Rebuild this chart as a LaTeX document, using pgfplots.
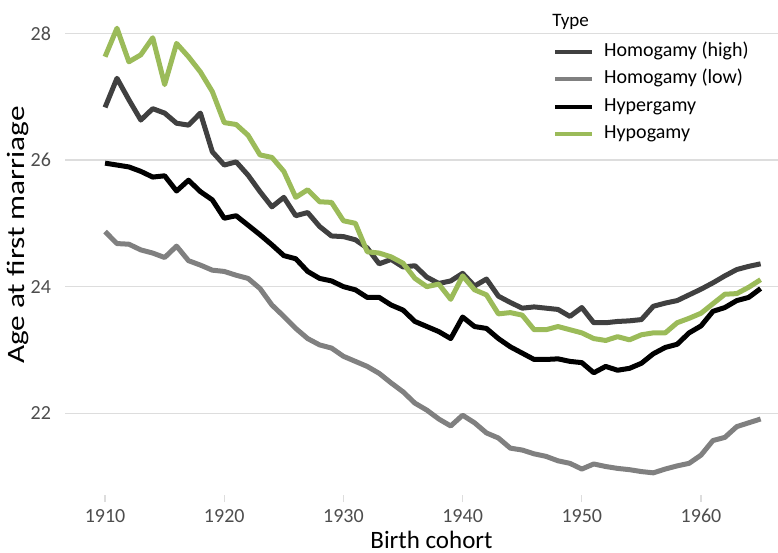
\documentclass[border=0pt]{standalone}
\usepackage{fontspec}
\setmainfont{Carlito}
\usepackage{pgfplots}
\usepackage{pgfplotstable}
\pgfplotsset{compat=1.18}
\definecolor{cHigh}{HTML}{404040}
\definecolor{cLow}{HTML}{808080}
\definecolor{cHyper}{HTML}{000000}
\definecolor{cHypo}{HTML}{9BBB59}
\definecolor{cTick}{HTML}{4D4D4D}
\definecolor{cGrid}{HTML}{DDDDDD}

\pgfplotstableread{
year val
1910 26.83
1911 27.29
1912 26.95
1913 26.63
1914 26.81
1915 26.74
1916 26.58
1917 26.55
1918 26.74
1919 26.13
1920 25.92
1921 25.97
1922 25.76
1923 25.50
1924 25.26
1925 25.41
1926 25.12
1927 25.17
1928 24.95
1929 24.80
1930 24.79
1931 24.74
1932 24.61
1933 24.36
1934 24.43
1935 24.31
1936 24.33
1937 24.15
1938 24.05
1939 24.09
1940 24.21
1941 24.01
1942 24.12
1943 23.85
1944 23.75
1945 23.66
1946 23.68
1947 23.66
1948 23.64
1949 23.53
1950 23.67
1951 23.43
1952 23.43
1953 23.45
1954 23.46
1955 23.48
1956 23.69
1957 23.74
1958 23.78
1959 23.87
1960 23.96
1961 24.06
1962 24.17
1963 24.27
1964 24.32
1965 24.36
}\tHigh

\pgfplotstableread{
year val
1910 24.87
1911 24.68
1912 24.67
1913 24.58
1914 24.53
1915 24.46
1916 24.64
1917 24.41
1918 24.34
1919 24.26
1920 24.24
1921 24.18
1922 24.13
1923 23.97
1924 23.71
1925 23.53
1926 23.34
1927 23.18
1928 23.08
1929 23.03
1930 22.90
1931 22.82
1932 22.74
1933 22.63
1934 22.48
1935 22.34
1936 22.16
1937 22.05
1938 21.91
1939 21.80
1940 21.97
1941 21.85
1942 21.69
1943 21.61
1944 21.45
1945 21.42
1946 21.36
1947 21.32
1948 21.25
1949 21.21
1950 21.12
1951 21.20
1952 21.16
1953 21.13
1954 21.11
1955 21.08
1956 21.06
1957 21.12
1958 21.17
1959 21.21
1960 21.34
1961 21.57
1962 21.62
1963 21.79
1964 21.85
1965 21.91
}\tLow

\pgfplotstableread{
year val
1910 25.95
1911 25.92
1912 25.89
1913 25.82
1914 25.73
1915 25.75
1916 25.51
1917 25.68
1918 25.50
1919 25.37
1920 25.08
1921 25.12
1922 24.97
1923 24.82
1924 24.66
1925 24.49
1926 24.44
1927 24.24
1928 24.13
1929 24.09
1930 24.00
1931 23.95
1932 23.83
1933 23.83
1934 23.71
1935 23.63
1936 23.45
1937 23.37
1938 23.29
1939 23.18
1940 23.52
1941 23.37
1942 23.34
1943 23.18
1944 23.05
1945 22.95
1946 22.85
1947 22.85
1948 22.86
1949 22.82
1950 22.80
1951 22.64
1952 22.74
1953 22.68
1954 22.71
1955 22.79
1956 22.94
1957 23.04
1958 23.09
1959 23.27
1960 23.38
1961 23.61
1962 23.67
1963 23.78
1964 23.83
1965 23.97
}\tHyper

\pgfplotstableread{
year val
1910 27.63
1911 28.08
1912 27.55
1913 27.66
1914 27.93
1915 27.19
1916 27.84
1917 27.63
1918 27.39
1919 27.08
1920 26.59
1921 26.56
1922 26.39
1923 26.08
1924 26.04
1925 25.82
1926 25.41
1927 25.53
1928 25.34
1929 25.33
1930 25.04
1931 25.00
1932 24.55
1933 24.53
1934 24.47
1935 24.37
1936 24.13
1937 24.00
1938 24.04
1939 23.80
1940 24.17
1941 23.95
1942 23.87
1943 23.57
1944 23.59
1945 23.55
1946 23.32
1947 23.32
1948 23.37
1949 23.32
1950 23.27
1951 23.18
1952 23.15
1953 23.21
1954 23.16
1955 23.24
1956 23.27
1957 23.27
1958 23.43
1959 23.50
1960 23.58
1961 23.73
1962 23.88
1963 23.89
1964 23.99
1965 24.11
}\tHypo

\begin{document}
\begin{tikzpicture}
\begin{axis}[
  name=ax,
  scale only axis,
  width=356.5pt, height=247.5pt,
  xmin=1906.64, xmax=1966.46,
  ymin=20.71, ymax=28.526,
  xtick={1910,1920,1930,1940,1950,1960},
  ytick={22,24,26,28},
  axis line style={draw=none},
  ymajorgrids,
  grid style={cGrid, line width=0.6pt},
  tick align=outside,
  xtick pos=bottom, ytick pos=left,
  xtick style={cGrid, line width=0.6pt},
  ytick style={draw=none},
  major tick length=3.5pt,
  /pgf/number format/assume math mode=true,
  x tick label style={/pgf/number format/1000 sep={}, font=\fontsize{10}{11}\selectfont, text=cTick},
  y tick label style={font=\fontsize{10}{11}\selectfont, text=cTick},
  xlabel={Birth cohort},
  ylabel={Age at first marriage},
  label style={font=\fontsize{12.5}{14}\selectfont},
  xlabel style={at={(rel axis cs:0.514,-0.1071)}, anchor=base},
  ylabel style={at={(rel axis cs:-0.0561,0.525)}, anchor=base, xscale=1.25},
  legend cell align=left,
  legend style={
    draw=none, fill=none,
    at={(axis cs:1947.6,27.84)}, anchor=north west,
    inner sep=0pt, outer sep=0pt,
    font=\fontsize{10}{11}\selectfont,
    row sep=5.15pt,
    /tikz/every odd column/.append style={column sep=5pt},
    nodes={inner sep=0pt, text height=6.5pt, text depth=2pt},
  },
  legend image code/.code={\draw[#1, line width=2pt] (0pt,0pt) -- (18.5pt,0pt);},
  every axis plot/.append style={line width=2.5pt, line join=round},
]
\addplot[cHigh] table[x=year,y=val] {\tHigh};
\addlegendentry{Homogamy (high)}
\addplot[cLow] table[x=year,y=val] {\tLow};
\addlegendentry{Homogamy (low)}
\addplot[cHyper] table[x=year,y=val] {\tHyper};
\addlegendentry{Hypergamy}
\addplot[cHypo] table[x=year,y=val] {\tHypo};
\addlegendentry{Hypogamy}
\node[anchor=base west, inner sep=0pt, font=\fontsize{9.5}{10}\selectfont] at (axis cs:1947.5,28.115) {Type};
\end{axis}
\pgfresetboundingbox
\path (ax.south west) ++(-32.5pt,-28.5pt) rectangle (ax.north east);
\end{tikzpicture}
\end{document}
